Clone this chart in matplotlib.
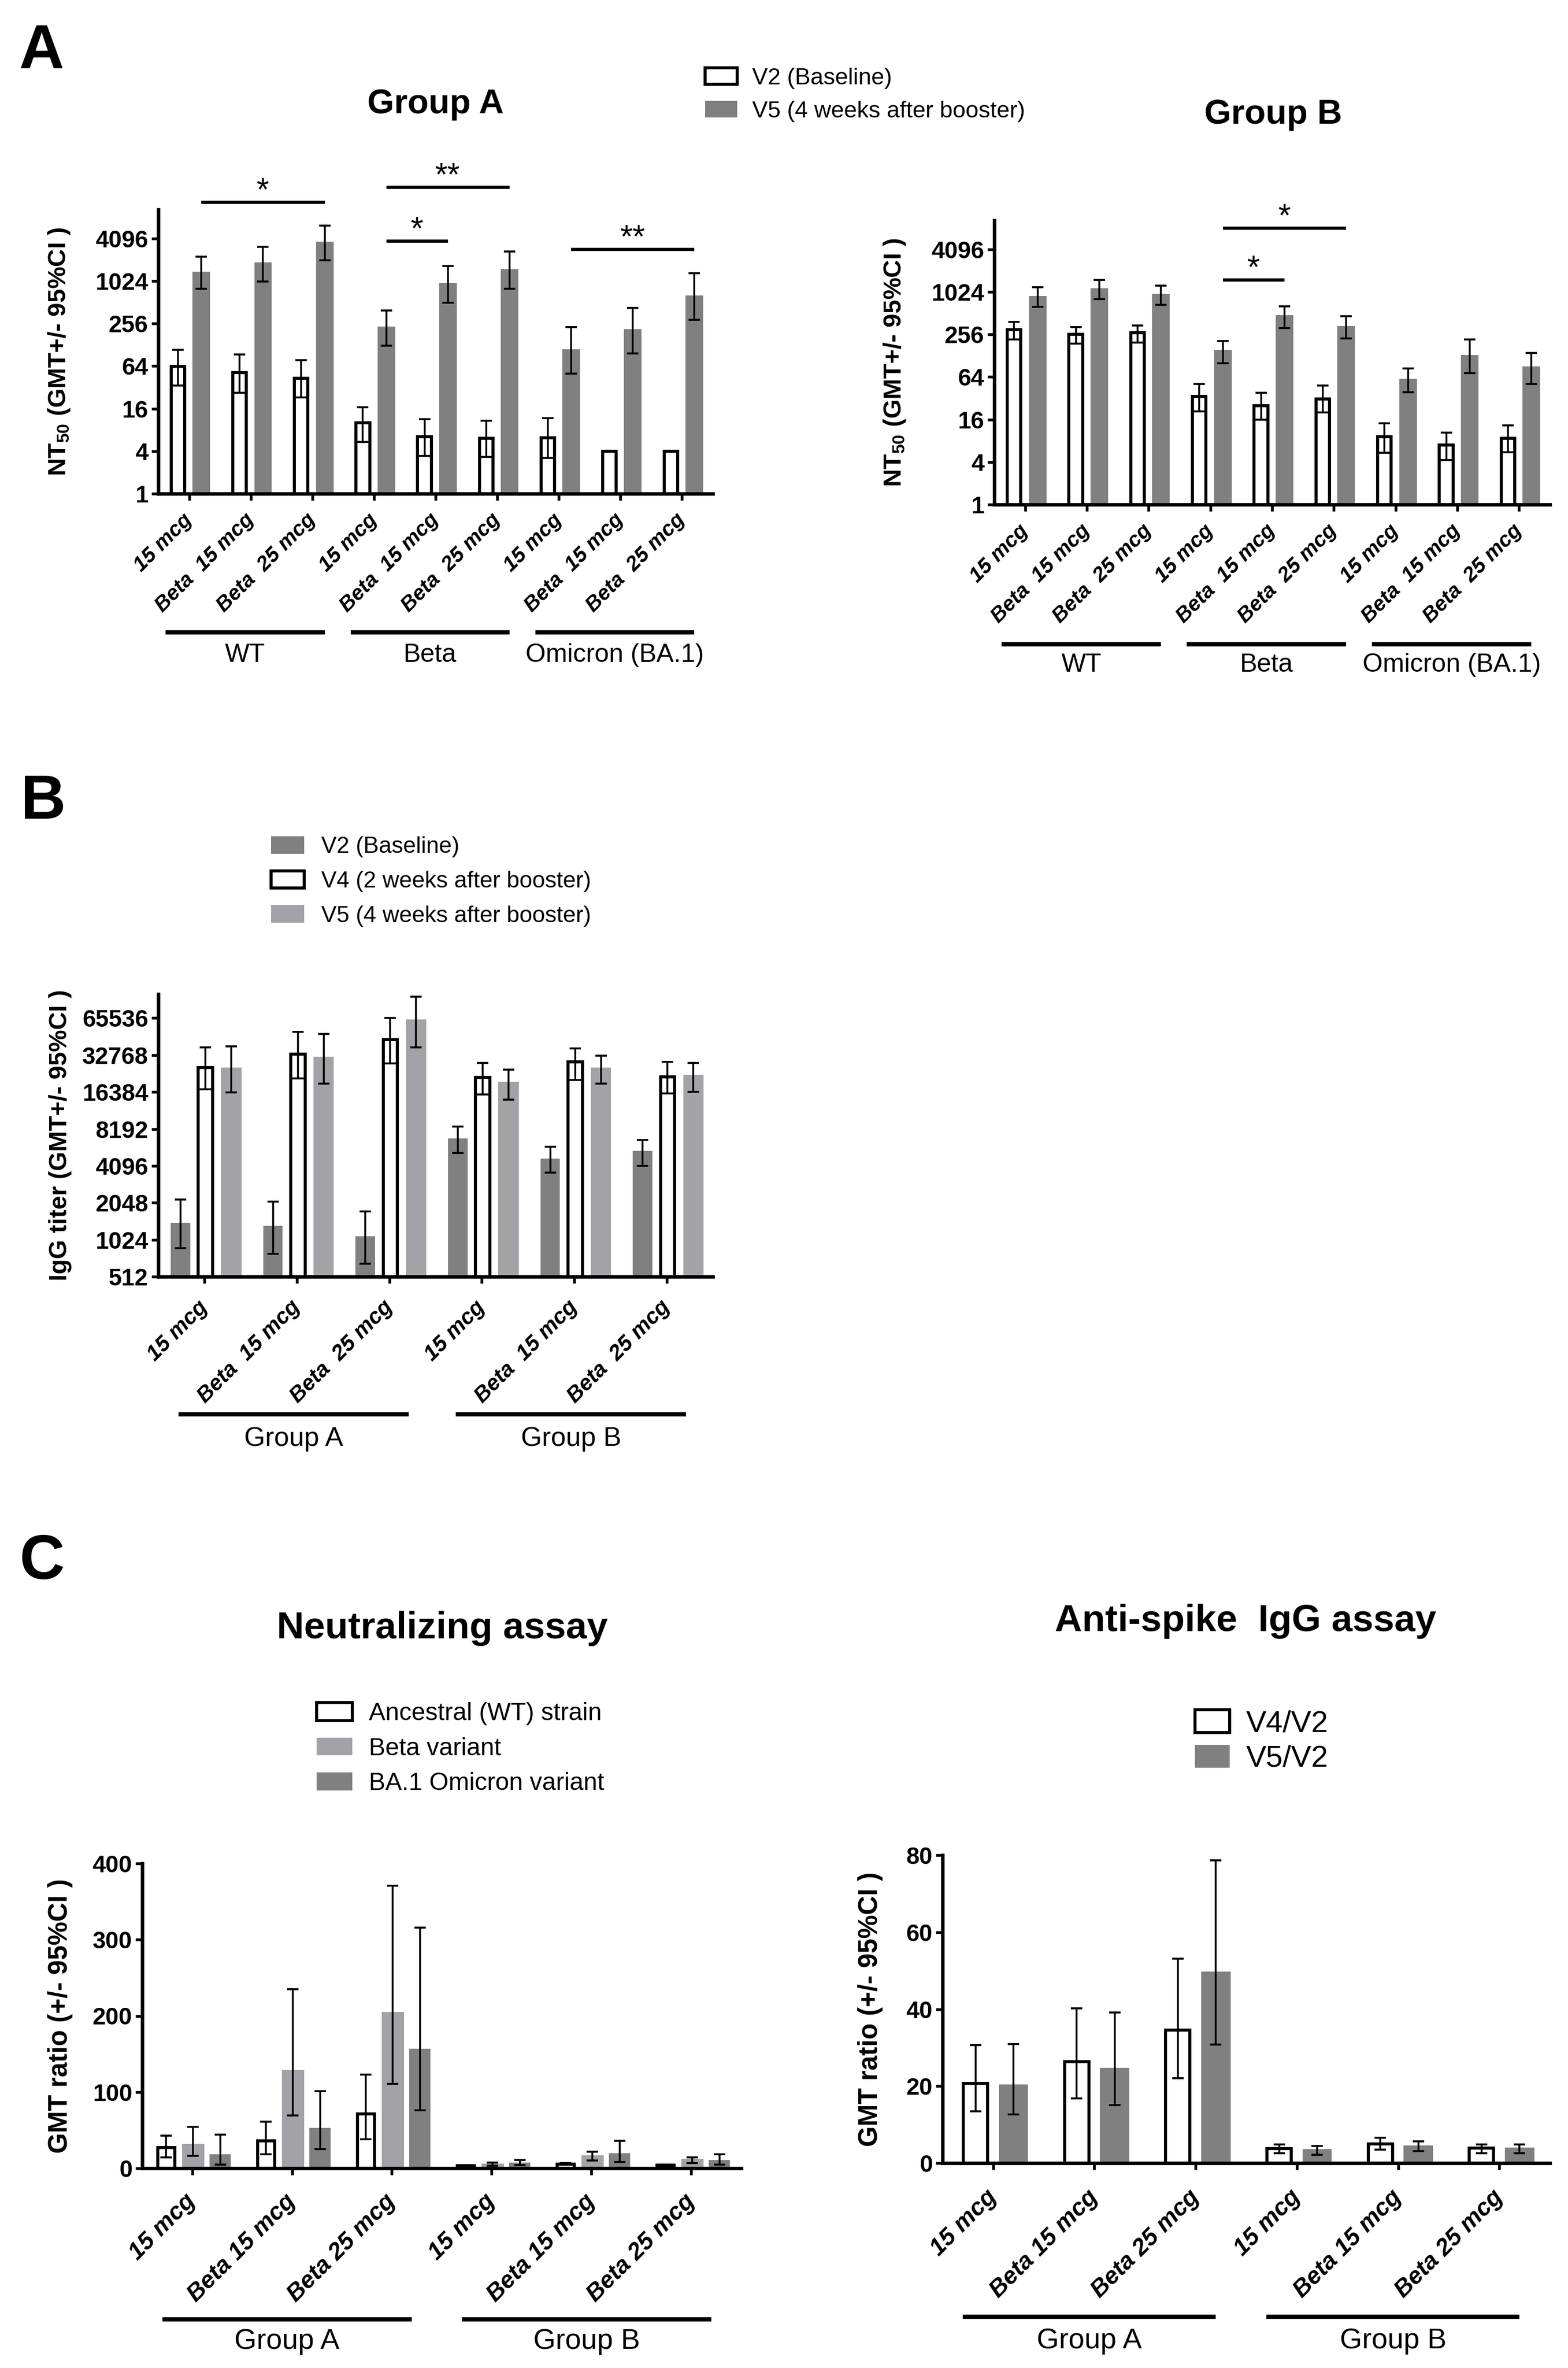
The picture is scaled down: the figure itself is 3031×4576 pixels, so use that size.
import numpy as np
import matplotlib
matplotlib.use('Agg')
import matplotlib.pyplot as plt
from matplotlib.transforms import blended_transform_factory
from matplotlib.ticker import NullLocator

plt.rcParams['font.family'] = ['Liberation Sans', 'DejaVu Sans']
plt.rcParams['mathtext.default'] = 'regular'

nan = np.nan

# ---------------- data ----------------
cats_A = ['15 mcg', 'Beta  15 mcg', 'Beta  25 mcg'] * 3
strains_A = ['WT', 'Beta', 'Omicron (BA.1)']
nt_ticks = [1, 4, 16, 64, 256, 1024, 4096]
nt_ticklabels = ['1', '4', '16', '64', '256', '1024', '4096']

# Panel A, Group A (NT50 GMT and 95% CI)
grpA_v2 = [63, 52, 43, 10, 6.4, 6.1, 6.2, 4, 4]
grpA_v2_lo = [34, 27, 23, 5.4, 3.4, 3.3, 3.2, nan, nan]
grpA_v2_hi = [108, 94, 78, 16.8, 11.4, 10.8, 11.8, nan, nan]
grpA_v5 = [1400, 1870, 3690, 234, 960, 1510, 111, 212, 638]
grpA_v5_lo = [790, 1010, 2020, 125, 504, 790, 50, 97, 291]
grpA_v5_hi = [2270, 3130, 6250, 393, 1680, 2670, 229, 424, 1310]

# Panel A, Group B
grpB_v2 = [300, 258, 269, 34, 25, 31, 9.1, 7.0, 8.7]
grpB_v2_lo = [217, 191, 195, 21, 16, 20, 5.4, 4.3, 5.5]
grpB_v2_hi = [385, 327, 345, 51, 38, 48, 14.1, 10.5, 13.2]
grpB_v5 = [890, 1150, 960, 154, 477, 338, 60, 131, 90]
grpB_v5_lo = [625, 816, 671, 100, 317, 224, 39, 73, 51]
grpB_v5_hi = [1190, 1510, 1260, 208, 644, 461, 85, 217, 141]

# significance brackets (pairs of categories, bracket height, mark)
sigA_pairs = [(0, 2), (3, 5), (3, 4), (6, 8)]
sigA_heights = [13300, 21600, 3740, 2860]
sigA_marks = ['*', '**', '*', '**']
sigB_pairs = [(3, 5), (3, 4)]
sigB_heights = [8150, 1510]
sigB_marks = ['*', '*']

# Panel B (IgG titer)
cats_B = ['15 mcg', 'Beta  15 mcg', 'Beta  25 mcg'] * 2
groups_B = ['Group A', 'Group B']
igg_ticks = [512, 1024, 2048, 4096, 8192, 16384, 32768, 65536]
igg_ticklabels = ['512', '1024', '2048', '4096', '8192', '16384', '32768', '65536']
igg_v2 = [1406, 1330, 1090, 6840, 4700, 5440]
igg_v2_lo = [873, 787, 650, 5220, 3600, 4100]
igg_v2_hi = [2170, 2100, 1745, 8560, 5840, 6650]
igg_v4 = [26000, 33200, 43800, 21500, 28700, 21800]
igg_v4_lo = [17200, 21200, 28100, 15700, 20500, 15900]
igg_v4_hi = [37900, 50400, 66000, 28300, 37100, 28700]
igg_v5 = [26000, 31700, 63800, 19800, 25900, 22500]
igg_v5_lo = [16300, 19200, 37900, 14200, 19100, 16400]
igg_v5_hi = [38400, 48700, 98000, 25000, 32300, 28300]

# Panel C left (neutralizing GMT ratio)
cats_C = ['15 mcg', 'Beta 15 mcg', 'Beta 25 mcg'] * 2
ratio_wt = [27, 36, 71, 3.2, 5.4, 4]
ratio_wt_lo = [14, 18, 38, 2.5, 4.5, 3.5]
ratio_wt_hi = [43, 61, 123, 4, 6.5, 4.5]
ratio_beta = [32, 129, 205, 6, 17, 12]
ratio_beta_lo = [16, 69, 111, 3.5, 10, 7]
ratio_beta_hi = [54, 235, 371, 7.5, 22, 14.5]
ratio_omi = [18, 53, 157, 7.6, 20, 11]
ratio_omi_lo = [5, 25, 76, 4, 8, 5]
ratio_omi_hi = [44, 101, 316, 11, 36, 18]

# Panel C right (IgG GMT ratio)
igg_r4 = [20.7, 26.4, 34.6, 3.7, 5.0, 3.9]
igg_r4_lo = [13.4, 16.8, 22.1, 2.5, 3.5, 2.6]
igg_r4_hi = [30.7, 40.2, 53.1, 4.8, 6.6, 4.9]
igg_r5 = [20.4, 24.7, 49.8, 3.6, 4.6, 4.1]
igg_r5_lo = [12.7, 15.0, 30.8, 2.1, 3.1, 2.6]
igg_r5_hi = [30.9, 39.1, 78.6, 4.4, 5.6, 4.9]

DARK = '#808080'
LIGHT = '#a3a3a7'

# ---------------- figure ----------------
W, H = 3031, 4576
DPI = 300
fig = plt.figure(figsize=(W / DPI, H / DPI), dpi=DPI)


def add_box(l, t, r, b):
    ax = fig.add_axes([l / W, 1 - b / H, (r - l) / W, (b - t) / H])
    ax.box_px = (l, t, r, b)
    return ax


def setup(ax, n, cats, ticks, ticklabels, ylim, ylabel, label_px, xlab_size, xpad,
          log=True, ylabel_size=11.5):
    l, t, r, b = ax.box_px
    if log:
        ax.set_yscale('log', base=2)
    ax.set_xlim(-0.5, n - 0.5)
    ax.set_ylim(*ylim)
    ax.set_yticks(ticks)
    ax.set_yticklabels(ticklabels, fontweight='bold')
    ax.yaxis.set_minor_locator(NullLocator())
    for s in ['top', 'right']:
        ax.spines[s].set_visible(False)
    for s in ['left', 'bottom']:
        ax.spines[s].set_linewidth(1.6)
    ax.tick_params(axis='both', direction='out', length=3.2, width=1.3)
    ax.tick_params(axis='y', labelsize=11, pad=1.5)
    ax.set_xticks(np.arange(n))
    ax.set_xticklabels(cats, rotation=45, ha='right', va='center', rotation_mode='anchor',
                       fontsize=xlab_size, fontweight='bold', fontstyle='italic')
    ax.tick_params(axis='x', pad=xpad)
    ax.set_ylabel(ylabel, fontsize=ylabel_size, fontweight='bold')
    ax.yaxis.set_label_coords((label_px - l) / (r - l), 0.5)


def bars(ax, x, vals, lo, hi, width, color, label, edge=False):
    vals = np.array(vals, float)
    err = [vals - np.array(lo, float), np.array(hi, float) - vals]
    if edge:
        c = ax.bar(x, vals, width, color='white', edgecolor='black', linewidth=1.4, label=label)
    else:
        c = ax.bar(x, vals, width, color=color, linewidth=0, label=label)
    ax.errorbar(x, vals, yerr=err, fmt='none', ecolor='black', elinewidth=0.85,
                capsize=2.7, capthick=0.9, zorder=4)
    return c


def group_lines(ax, names, size, line_px, text_px, start_off, end_off):
    l, t, r, b = ax.box_px
    tr = blended_transform_factory(ax.transData, ax.transAxes)
    yl = (b - line_px) / (b - t)
    yt = (b - text_px) / (b - t)
    for k, name in enumerate(names):
        x0, x1 = 3 * k - start_off, 3 * k + 2 + end_off
        ax.plot([x0, x1], [yl, yl], color='black', lw=2.0, transform=tr, clip_on=False,
                solid_capstyle='butt')
        ax.text((x0 + x1) / 2, yt, name, transform=tr, ha='center', va='center', fontsize=size)


def sig(ax, pairs, heights, marks, off):
    for (i, j), h, m in zip(pairs, heights, marks):
        ax.plot([i + off, j + off], [h, h], color='black', lw=1.5, clip_on=False,
                solid_capstyle='butt')
        ax.annotate(m, ((i + j) / 2 + off, h), xytext=(0, 1), textcoords='offset points',
                    ha='center', va='baseline', fontsize=15, annotation_clip=False)


def ftext(x, y, s, **kw):
    fig.text(x / W, 1 - y / H, s, ha='center', va='center', **kw)


nt_label = 'NT$_{50}$ (GMT+/- 95%CI )'
nt_ylim = (1, 2 ** 13.36)

# ---- Panel A, Group A ----
ax = add_box(306, 405, 1378, 954)
x = np.arange(9)
h1 = bars(ax, x - 0.18, grpA_v2, grpA_v2_lo, grpA_v2_hi, 0.22, 'white', 'V2 (Baseline)', edge=True)
h2 = bars(ax, x + 0.2, grpA_v5, grpA_v5_lo, grpA_v5_hi, 0.285, DARK, 'V5 (4 weeks after booster)')
setup(ax, 9, cats_A, nt_ticks, nt_ticklabels, nt_ylim, nt_label, 139, 9.8, 7.5)
group_lines(ax, strains_A, 12, 1222, 1266, 0.38, 0.2)
sig(ax, sigA_pairs, sigA_heights, sigA_marks, 0.2)
fig.legend([h1, h2], ['V2 (Baseline)', 'V5 (4 weeks after booster)'], loc='upper left',
           bbox_to_anchor=(1363 / W, 1 - 131 / H), frameon=False, fontsize=10.8, borderpad=0,
           borderaxespad=0, handlelength=1.38, handleheight=0.71, handletextpad=0.64,
           labelspacing=0.5)

# ---- Panel A, Group B ----
ax = add_box(1922, 426, 2996, 975)
bars(ax, x - 0.18, grpB_v2, grpB_v2_lo, grpB_v2_hi, 0.22, 'white', 'V2 (Baseline)', edge=True)
bars(ax, x + 0.2, grpB_v5, grpB_v5_lo, grpB_v5_hi, 0.285, DARK, 'V5 (4 weeks after booster)')
setup(ax, 9, cats_A, nt_ticks, nt_ticklabels, nt_ylim, nt_label, 1754, 9.8, 7.5)
group_lines(ax, strains_A, 12, 1245, 1285, 0.38, 0.2)
sig(ax, sigB_pairs, sigB_heights, sigB_marks, 0.2)

# ---- Panel B ----
ax = add_box(306, 1921, 1378, 2467)
x = np.arange(6)
g1 = bars(ax, x - 0.26, igg_v2, igg_v2_lo, igg_v2_hi, 0.21, DARK, 'V2 (Baseline)')
g2 = bars(ax, x + 0.01, igg_v4, igg_v4_lo, igg_v4_hi, 0.155, 'white', 'V4 (2 weeks after booster)', edge=True)
g3 = bars(ax, x + 0.29, igg_v5, igg_v5_lo, igg_v5_hi, 0.22, LIGHT, 'V5 (4 weeks after booster)')
setup(ax, 6, cats_B, igg_ticks, igg_ticklabels, (512, 2 ** 16.65),
      'IgG titer (GMT+/- 95%CI )', 139, 10.2, 9.5)
group_lines(ax, groups_B, 12.5, 2733, 2780, 0.28, 0.21)
fig.legend([g1, g2, g3], ['V2 (Baseline)', 'V4 (2 weeks after booster)', 'V5 (4 weeks after booster)'],
           loc='upper left', bbox_to_anchor=(524 / W, 1 - 1616 / H), frameon=False, fontsize=10.7,
           borderpad=0, borderaxespad=0, handlelength=1.43, handleheight=0.78,
           handletextpad=0.74, labelspacing=0.57)

# ---- Panel C, neutralizing ----
ax = add_box(275, 3601, 1433, 4190)
c1 = bars(ax, x - 0.26, ratio_wt, ratio_wt_lo, ratio_wt_hi, 0.17, 'white', 'Ancestral (WT) strain', edge=True)
c2 = bars(ax, x + 0.01, ratio_beta, ratio_beta_lo, ratio_beta_hi, 0.22, LIGHT, 'Beta variant')
c3 = bars(ax, x + 0.28, ratio_omi, ratio_omi_lo, ratio_omi_hi, 0.21, DARK, 'BA.1 Omicron variant')
setup(ax, 6, cats_C, [0, 100, 200, 300, 400], ['0', '100', '200', '300', '400'], (0, 400),
      'GMT ratio (+/- 95%CI )', 141, 11.2, 10.5, log=False, ylabel_size=12.3)
group_lines(ax, groups_B, 13.3, 4482, 4525, 0.3, 0.2)
fig.legend([c1, c2, c3], ['Ancestral (WT) strain', 'Beta variant', 'BA.1 Omicron variant'],
           loc='upper left', bbox_to_anchor=(612 / W, 1 - 3289 / H), frameon=False, fontsize=11.5,
           borderpad=0, borderaxespad=0, handlelength=1.44, handleheight=0.73,
           handletextpad=0.67, labelspacing=0.47)

# ---- Panel C, anti-spike IgG ----
ax = add_box(1822, 3585, 2996, 4180)
r1 = bars(ax, x - 0.175, igg_r4, igg_r4_lo, igg_r4_hi, 0.24, 'white', 'V4/V2', edge=True)
r2 = bars(ax, x + 0.2, igg_r5, igg_r5_lo, igg_r5_hi, 0.29, DARK, 'V5/V2')
setup(ax, 6, cats_C, [0, 20, 40, 60, 80], ['0', '20', '40', '60', '80'], (0, 80),
      'GMT ratio (+/- 95%CI )', 1707, 11.2, 11, log=False, ylabel_size=12.3)
group_lines(ax, groups_B, 13.3, 4477, 4524, 0.3, 0.2)
fig.legend([r1, r2], ['V4/V2', 'V5/V2'], loc='upper left',
           bbox_to_anchor=(2310 / W, 1 - 3304 / H), frameon=False, fontsize=14,
           borderpad=0, borderaxespad=0, handlelength=1.14, handleheight=0.78,
           handletextpad=0.55, labelspacing=0.23)

# ---- titles and panel letters ----
ftext(842, 202, 'Group A', fontsize=16, fontweight='bold')
ftext(2461, 222, 'Group B', fontsize=16, fontweight='bold')
ftext(855, 3147, 'Neutralizing assay', fontsize=17.5, fontweight='bold')
ftext(2408, 3133, 'Anti-spike  IgG assay', fontsize=17.5, fontweight='bold')
ftext(81, 100, 'A', fontsize=29, fontweight='bold')
ftext(84, 1551, 'B', fontsize=29, fontweight='bold')
ftext(82, 3020, 'C', fontsize=29, fontweight='bold')

fig.savefig('out.png', dpi=DPI, facecolor='white')
